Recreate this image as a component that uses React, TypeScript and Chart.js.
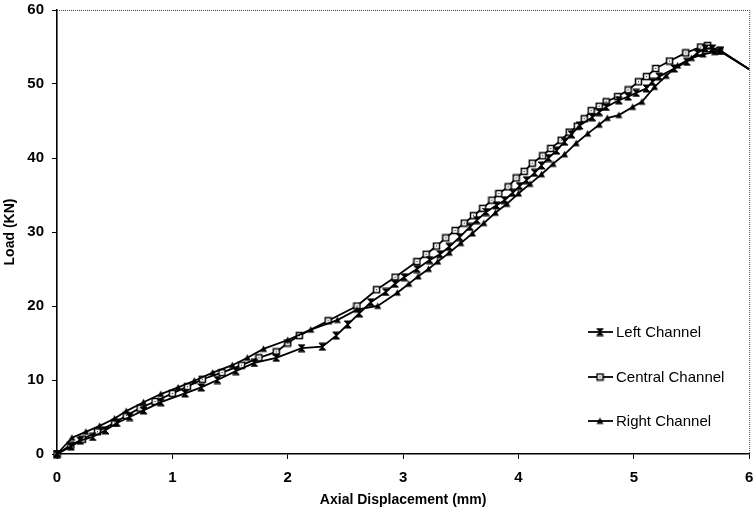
import React, { useEffect, useRef } from 'react';
import { Chart, registerables } from 'chart.js';

Chart.register(...registerables);

// ---------- data ----------
const xTicks = [0, 1, 2, 3, 4, 5, 6];
const yTicks = [0, 10, 20, 30, 40, 50, 60];

const leftDisp = [0, 0.12, 0.2, 0.31, 0.42, 0.52, 0.63, 0.75, 0.9, 1.11, 1.25, 1.39, 1.55, 1.71, 1.9, 2.12, 2.3, 2.42, 2.52, 2.62, 2.72, 2.85, 2.93, 3.01, 3.12, 3.23, 3.32, 3.4, 3.49, 3.58, 3.64, 3.72, 3.81, 3.88, 3.95, 4.01, 4.07, 4.14, 4.2, 4.26, 4.33, 4.4, 4.46, 4.53, 4.64, 4.7, 4.76, 4.87, 4.95, 5.02, 5.11, 5.16, 5.22, 5.35, 5.46, 5.55, 5.62, 5.68, 5.75, 6.0];
const leftLoad = [0, 1.0, 1.8, 2.3, 3.2, 4.2, 5.0, 5.9, 7.0, 8.2, 9.0, 10.0, 11.2, 12.3, 13.0, 14.3, 14.5, 16.0, 17.5, 19.0, 20.5, 21.9, 23.0, 23.9, 25.0, 26.2, 27.0, 28.0, 29.3, 30.7, 31.6, 32.7, 33.6, 34.3, 35.3, 36.2, 37.0, 38.0, 39.0, 40.0, 41.0, 42.2, 43.2, 44.4, 45.5, 46.2, 46.9, 47.8, 48.3, 48.8, 49.4, 50.3, 51.0, 52.1, 53.0, 54.2, 54.8, 54.8, 54.5, 52.0];

const centralDisp = [0, 0.12, 0.22, 0.35, 0.5, 0.6, 0.72, 0.85, 1.0, 1.13, 1.26, 1.43, 1.6, 1.75, 1.9, 2.0, 2.1, 2.35, 2.6, 2.77, 2.93, 3.12, 3.2, 3.29, 3.37, 3.45, 3.53, 3.61, 3.69, 3.77, 3.83, 3.91, 3.98, 4.05, 4.12, 4.21, 4.28, 4.37, 4.44, 4.51, 4.57, 4.63, 4.7, 4.76, 4.86, 4.95, 5.04, 5.11, 5.19, 5.31, 5.45, 5.58, 5.64, 5.74, 6.0];
const centralLoad = [0, 1.2, 2.0, 3.0, 4.2, 5.2, 6.2, 7.1, 8.2, 9.1, 10.1, 11.0, 12.0, 13.0, 13.8, 15.0, 16.0, 18.0, 20.0, 22.2, 23.9, 26.0, 27.0, 28.1, 29.2, 30.2, 31.2, 32.2, 33.2, 34.3, 35.2, 36.1, 37.3, 38.2, 39.3, 40.3, 41.3, 42.4, 43.5, 44.3, 45.3, 46.4, 47.0, 47.6, 48.3, 49.2, 50.3, 51.0, 52.1, 53.1, 54.2, 55.0, 55.2, 54.5, 52.0];

const rightDisp = [0, 0.13, 0.25, 0.37, 0.5, 0.6, 0.75, 0.9, 1.05, 1.19, 1.35, 1.52, 1.65, 1.79, 2.0, 2.2, 2.43, 2.6, 2.78, 2.95, 3.05, 3.13, 3.22, 3.3, 3.4, 3.5, 3.6, 3.7, 3.8, 3.9, 4.0, 4.1, 4.2, 4.3, 4.4, 4.5, 4.6, 4.7, 4.77, 4.87, 4.99, 5.07, 5.18, 5.28, 5.38, 5.5, 5.6, 5.7, 5.75, 6.0];
const rightLoad = [0, 2.2, 3.0, 3.8, 4.8, 5.8, 7.0, 8.1, 9.0, 9.9, 11.0, 12.0, 13.0, 14.2, 15.4, 16.8, 18.1, 19.5, 20.0, 21.8, 23.0, 24.0, 25.0, 26.0, 27.2, 28.5, 29.8, 31.2, 32.6, 33.8, 35.2, 36.5, 37.8, 39.2, 40.5, 42.0, 43.3, 44.5, 45.4, 45.8, 46.9, 47.6, 49.6, 51.1, 52.5, 53.5, 54.0, 54.3, 54.5, 52.0];

const seriesNames = ['Left Channel', 'Central Channel', 'Right Channel'];

const FONT = "'Liberation Sans', Arial, Helvetica, sans-serif";

function makeMarker(kind: string): HTMLCanvasElement {
  const c = document.createElement('canvas');
  c.width = 9;
  c.height = 9;
  const g = c.getContext('2d')!;
  g.fillStyle = '#000';
  g.strokeStyle = '#000';
  if (kind === 'bowtie') {
    g.beginPath();
    g.moveTo(1, 1);
    g.lineTo(8, 1);
    g.lineTo(1, 8);
    g.lineTo(8, 8);
    g.closePath();
    g.fill();
    g.lineWidth = 1;
    g.stroke();
  } else if (kind === 'square') {
    g.fillStyle = '#fff';
    g.fillRect(1.5, 1.5, 6, 6);
    g.lineWidth = 1.5;
    g.strokeRect(1.5, 1.5, 6, 6);
    g.fillStyle = '#000';
    g.fillRect(4, 4, 1, 1);
  } else {
    g.beginPath();
    g.moveTo(4.5, 1);
    g.lineTo(8, 7.5);
    g.lineTo(1, 7.5);
    g.closePath();
    g.fill();
  }
  return c;
}

const toPoints = (xs: number[], ys: number[]) => xs.map((x, i) => ({ x, y: ys[i] }));

export default function App() {
  const ref = useRef<HTMLCanvasElement | null>(null);

  useEffect(() => {
    const canvas = ref.current;
    if (!canvas) return;
    const markers = [makeMarker('bowtie'), makeMarker('square'), makeMarker('triangle')];

    const framePlugin = {
      id: 'frameAndLegend',
      afterDraw(chart: any) {
        const { ctx, chartArea } = chart;
        const { left, top, right, bottom } = chartArea;
        ctx.save();
        ctx.strokeStyle = '#444';
        ctx.lineWidth = 1;
        ctx.setLineDash([1, 1]);
        ctx.beginPath();
        ctx.moveTo(left, top + 0.5);
        ctx.lineTo(right, top + 0.5);
        ctx.moveTo(right + 0.5, top);
        ctx.lineTo(right + 0.5, bottom);
        ctx.stroke();
        ctx.setLineDash([]);

        const ys = [332, 377, 421];
        ctx.font = `15px ${FONT}`;
        ctx.textBaseline = 'middle';
        ctx.textAlign = 'left';
        seriesNames.forEach((name, i) => {
          const y = ys[i];
          ctx.strokeStyle = '#000';
          ctx.lineWidth = 1.8;
          ctx.beginPath();
          ctx.moveTo(588, y);
          ctx.lineTo(613, y);
          ctx.stroke();
          const m = markers[i];
          ctx.drawImage(m, 600 - m.width / 2, y - m.height / 2);
          ctx.fillStyle = '#000';
          ctx.fillText(name, 616, y + 1);
        });
        ctx.restore();
      },
    };

    const mkDs = (label: string, xs: number[], ys: number[], marker: HTMLCanvasElement) => ({
      label,
      data: toPoints(xs, ys),
      borderColor: '#000',
      backgroundColor: '#000',
      borderWidth: 1.8,
      pointStyle: marker,
      pointRadius: (c: any) => (c.dataIndex >= xs.length - 1 ? 0 : 4),
      pointHoverRadius: 0,
      tension: 0,
      fill: false,
      clip: false as any,
    });

    const chart = new Chart(canvas, {
      type: 'line',
      data: {
        datasets: [
          mkDs(seriesNames[2], rightDisp, rightLoad, markers[2]),
          mkDs(seriesNames[0], leftDisp, leftLoad, markers[0]),
          mkDs(seriesNames[1], centralDisp, centralLoad, markers[1]),
        ],
      },
      options: {
        animation: false,
        responsive: false,
        devicePixelRatio: 1,
        layout: { padding: { left: 0, right: 5, top: 10, bottom: 0 } },
        plugins: {
          legend: { display: false },
          tooltip: { enabled: false },
        },
        scales: {
          x: {
            type: 'linear',
            min: 0,
            max: 6,
            afterBuildTicks: (s: any) => {
              s.ticks = xTicks.map((v) => ({ value: v }));
            },
            afterFit: (s: any) => {
              s.height = 60;
              s.paddingLeft = 0;
              s.paddingRight = 0;
            },
            ticks: {
              color: '#000',
              font: { family: FONT, size: 15, weight: 'bold' },
              padding: 10,
              maxRotation: 0,
            },
            grid: {
              display: true,
              drawOnChartArea: false,
              drawTicks: true,
              tickLength: 5,
              color: '#000',
              lineWidth: 1,
            },
            border: { display: true, color: '#000', width: 1.6 },
            title: {
              display: true,
              text: 'Axial Displacement (mm)',
              color: '#000',
              font: { family: FONT, size: 14, weight: 'bold' },
              padding: { top: 0, bottom: 5 },
            },
          },
          y: {
            type: 'linear',
            min: 0,
            max: 60,
            afterBuildTicks: (s: any) => {
              s.ticks = yTicks.map((v) => ({ value: v }));
            },
            afterFit: (s: any) => {
              s.width = 57;
              s.paddingTop = 0;
              s.paddingBottom = 0;
            },
            ticks: {
              color: '#000',
              font: { family: FONT, size: 15, weight: 'bold' },
              padding: 8,
            },
            grid: {
              display: true,
              drawOnChartArea: false,
              drawTicks: true,
              tickLength: 5,
              color: '#000',
              lineWidth: 1,
            },
            border: { display: true, color: '#000', width: 1.6 },
            title: {
              display: true,
              text: 'Load (KN)',
              color: '#000',
              font: { family: FONT, size: 14, weight: 'bold' },
              padding: { top: 2, bottom: 0 },
            },
          },
        },
      } as any,
      plugins: [framePlugin],
    });

    return () => chart.destroy();
  }, []);

  return (
    <div style={{ position: 'fixed', left: 0, top: 0, width: 755, height: 514, background: '#fff' }}>
      <canvas ref={ref} width={755} height={514} style={{ width: 755, height: 514, display: 'block' }} />
    </div>
  );
}
